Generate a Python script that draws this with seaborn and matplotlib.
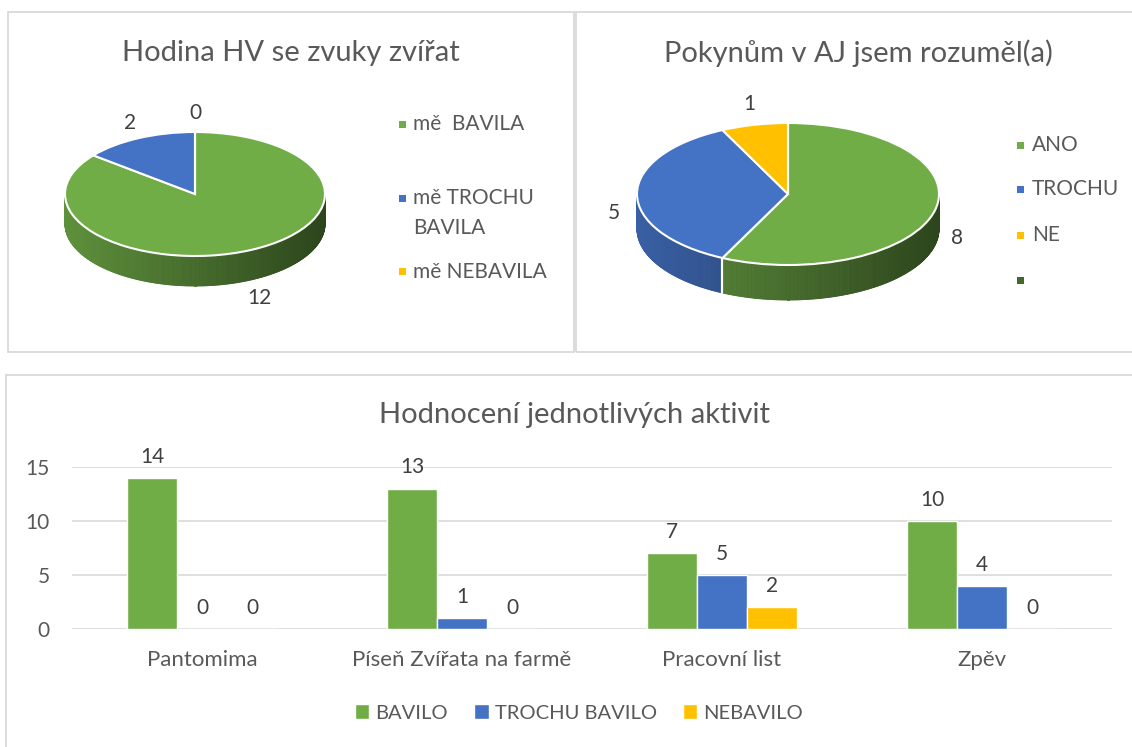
import matplotlib
matplotlib.use("Agg")
import matplotlib.pyplot as plt
from matplotlib.patches import Rectangle, Patch
from matplotlib.collections import PolyCollection
import matplotlib.colors as mcolors
import numpy as np
import pandas as pd
import seaborn as sns

# data
pie1_title = "Hodina HV se zvuky zvířat"
pie1_labels = ["mě  BAVILA", "mě TROCHU\nBAVILA", "mě NEBAVILA"]
pie1_values = [12, 2, 0]

pie2_title = "Pokynům v AJ jsem rozuměl(a)"
pie2_labels = ["ANO", "TROCHU", "NE", ""]
pie2_values = [8, 5, 1, 0]

bar_title = "Hodnocení jednotlivých aktivit"
activities = ["Pantomima", "Píseň Zvířata na farmě", "Pracovní list", "Zpěv"]
ratings = ["BAVILO", "TROCHU BAVILO", "NEBAVILO"]
bavilo = [14, 13, 7, 10]
trochu = [0, 1, 5, 4]
nebavilo = [0, 0, 2, 0]

green, blue, yellow, dkgreen = "#70AD47", "#4472C4", "#FFC000", "#43682B"
txt = "#595959"
lab = "#404040"

W, H = 1132, 747
sns.set_theme(style="white")
plt.rcParams["font.family"] = ["Lato", "DejaVu Sans"]
fig = plt.figure(figsize=(W / 100, H / 100), dpi=100)


def fx(px):
    return px / W


def fy(py):
    return 1 - py / H


def box(x0, y0, x1, y1):
    fig.patches.append(Rectangle((fx(x0), fy(y1)), (x1 - x0) / W, (y1 - y0) / H,
                                 transform=fig.transFigure, fill=False,
                                 edgecolor="#D9D9D9", lw=1.3))


box(8, 12, 574, 352)
box(576, 12, 1140, 352)
box(6, 375, 1140, 760)


def shade(c, f):
    r, g, b = mcolors.to_rgb(c)
    return (r * f, g * f, b * f)


def pie3d(cx, cy, rx, ry, depth, values, colors, names):
    d = depth / ry
    m = 1.6
    ax = fig.add_axes([fx(cx - m * rx), fy(cy + m * ry + depth),
                       2 * m * rx / W, (2 * m * ry + depth) / H])
    wedges, _ = ax.pie(values, colors=colors, startangle=90, counterclock=False,
                       wedgeprops=dict(edgecolor="white", linewidth=1.5, zorder=3))
    # side of the cylinder, front half only
    for w, c in zip(wedges, colors):
        t1, t2 = sorted([w.theta1, w.theta2])
        if t2 - t1 <= 0:
            continue
        ts = np.radians(np.linspace(t1, t2, int((t2 - t1) * 2) + 2))
        polys, cols = [], []
        for a, b in zip(ts[:-1], ts[1:]):
            mid = (a + b) / 2
            if np.sin(mid) > 0:
                continue
            polys.append([(np.cos(a), np.sin(a)), (np.cos(b), np.sin(b)),
                          (np.cos(b), np.sin(b) - d), (np.cos(a), np.sin(a) - d)])
            cols.append(shade(c, 0.62 - 0.22 * np.cos(mid)))
        if polys:
            ax.add_collection(PolyCollection(polys, facecolors=cols, edgecolors=cols,
                                             linewidths=0.6, zorder=1))
        for t in np.radians([t1, t2]):
            if np.sin(t) < -0.02:
                ax.plot([np.cos(t), np.cos(t)], [np.sin(t), np.sin(t) - d],
                        color="white", lw=1.5, zorder=2)
    for w, v, n in zip(wedges, values, names):
        if n == "":
            continue
        mid = np.radians((w.theta1 + w.theta2) / 2)
        s = np.sin(mid)
        ax.text(1.15 * np.cos(mid), 1.3 * s - 0.55 * d * (1 - s), str(v),
                ha="center", va="center", fontsize=15, color=lab)
    ax.set_aspect("auto")
    ax.set_xlim(-m, m)
    ax.set_ylim(-m - d, m)
    ax.axis("off")
    return ax


def legend_rows(x_mark, x_text, rows, names, colors, size=7):
    for y, n, c in zip(rows, names, colors):
        fig.patches.append(Rectangle((fx(x_mark - size / 2), fy(y + size / 2)), size / W, size / H,
                                     transform=fig.transFigure, facecolor=c, edgecolor="none"))
        for k, line in enumerate(n.split("\n")):
            fig.text(fx(x_text), fy(y + k * 30), line, ha="left", va="center",
                     fontsize=15, color=txt)


# pie 1
pie3d(195, 194, 130, 62, 30, pie1_values, [green, blue, yellow], ["a", "b", "c"])
fig.text(fx(291), fy(53), pie1_title, ha="center", va="center", fontsize=21, color=txt)
legend_rows(402, 413, [124, 198, 272], pie1_labels, [green, blue, yellow])

# pie 2
pie3d(788, 194, 151, 71, 35, pie2_values, [green, blue, yellow, dkgreen], pie2_labels)
fig.text(fx(858), fy(53), pie2_title, ha="center", va="center", fontsize=21, color=txt)
legend_rows(1020, 1032, [145, 189, 235, 280], pie2_labels, [green, blue, yellow, dkgreen])

# bar chart
df = pd.DataFrame({
    "aktivita": activities * 3,
    "hodnoceni": np.repeat(ratings, len(activities)),
    "pocet": bavilo + trochu + nebavilo,
})
axb = fig.add_axes([fx(72), fy(629), (1112 - 72) / W, (629 - 467) / H])
sns.barplot(data=df, x="aktivita", y="pocet", hue="hodnoceni", hue_order=ratings,
            palette=[green, blue, yellow], width=0.577, gap=0, saturation=1,
            legend=False, ax=axb)
for cont in axb.containers:
    axb.bar_label(cont, labels=[f"{int(v)}" for v in cont.datavalues], padding=8,
                  fontsize=15, color=lab, clip_on=False)
axb.set_ylim(0, 15)
axb.set_xlim(-0.5, 3.5)
axb.set_yticks([0, 5, 10, 15])
axb.grid(axis="y", color="#D9D9D9", lw=1.2)
axb.set_axisbelow(True)
for sp in axb.spines.values():
    sp.set_visible(False)
axb.set_xlabel("")
axb.set_ylabel("")
axb.tick_params(axis="y", length=0, pad=16, labelsize=15, labelcolor=txt)
axb.tick_params(axis="x", length=0, pad=15, labelsize=16, labelcolor=txt)
fig.text(fx(575), fy(415), bar_title, ha="center", va="center", fontsize=21, color=txt)
fig.legend(handles=[Patch(facecolor=c, label=l) for c, l in zip([green, blue, yellow], ratings)],
           loc="center", bbox_to_anchor=(fx(579), fy(713)), ncol=3, frameon=False,
           handlelength=0.72, handleheight=0.72, handletextpad=0.3, columnspacing=1.3,
           fontsize=14.5, labelcolor=txt)

fig.savefig("out.png", dpi=100)
